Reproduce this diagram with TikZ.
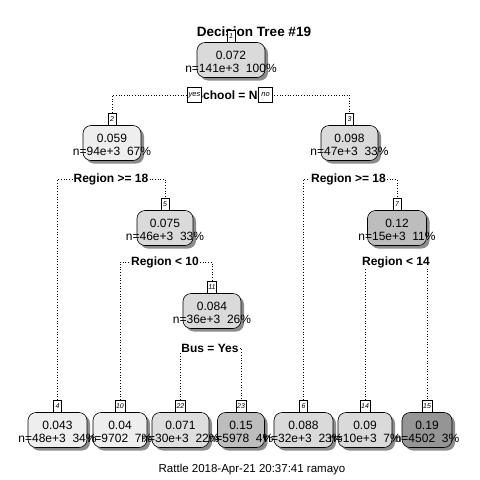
\documentclass[tikz,border=0pt]{standalone}
\usepackage{fontspec}
\setmainfont{Liberation Sans}
\usetikzlibrary{shadows}
\pgfdeclarelayer{back}\pgfdeclarelayer{bg}\pgfdeclarelayer{fg}\pgfsetlayers{back,bg,main,fg}
\definecolor{cA}{HTML}{DADADA}
\definecolor{cB}{HTML}{EEEEEE}
\definecolor{cC}{HTML}{BDBDBD}
\definecolor{cD}{HTML}{959595}
\definecolor{cE}{HTML}{DEDEDE}
\tikzset{
  box/.style={draw=black, line width=0.6pt, rounded corners=8pt, minimum height=35pt, inner sep=0pt,
    drop shadow={shadow xshift=3pt,shadow yshift=-3pt,fill=black!45,opacity=1}},
  txt/.style={font=\fontsize{12}{13}\selectfont, align=center, inner sep=0pt, yshift=-2pt},
  nlab/.style={draw, fill=white, line width=0.5pt, font=\fontsize{7}{8}\selectfont\itshape, inner sep=1pt, minimum width=8pt, minimum height=12pt, anchor=south},
  yn/.style={draw, fill=white, line width=0.5pt, font=\fontsize{7.5}{8}\selectfont\itshape, inner sep=1pt, minimum width=14pt, minimum height=15pt},
  split/.style={font=\bfseries\fontsize{12}{13}\selectfont, fill=white, inner xsep=1pt, inner ysep=1pt},
  conn/.style={dotted, line width=0.7pt}
}
\begin{document}
\begin{tikzpicture}[x=1pt,y=-1pt]
\begin{pgfonlayer}{back}
\fill[white] (0,0) rectangle (480,480);
\end{pgfonlayer}
\useasboundingbox (0,0) rectangle (480,480);
\node[font=\bfseries\fontsize{13.5}{15}\selectfont] (title) at (254,32) {Decision Tree \#19};
% boxes
\node[box, fill=cA, minimum width=68pt] (n1) at (231,60) {};
\node[box, fill=cB, minimum width=58pt] (n2) at (112,143) {};
\node[box, fill=cA, minimum width=57pt] (n3) at (349.5,143) {};
\node[box, fill=cA, minimum width=56pt] (n5) at (165,228) {};
\node[box, fill=cC, minimum width=59pt] (n7) at (397,228) {};
\node[box, fill=cA, minimum width=58pt] (n11) at (212,311) {};
\node[box, fill=cB, minimum width=59pt] (n4) at (57.5,430) {};
\node[box, fill=cB, minimum width=54pt] (n10) at (120,430) {};
\node[box, fill=cE, minimum width=57pt] (n22) at (180.5,430) {};
\node[box, fill=cC, minimum width=47pt] (n23) at (241,430) {};
\node[box, fill=cA, minimum width=59pt] (n6) at (303.5,430) {};
\node[box, fill=cA, minimum width=54pt] (n14) at (365,430) {};
\node[box, fill=cD, minimum width=50pt] (n15) at (427,430) {};
% number labels
\node[nlab] (l1) at (n1.north) {1};
\node[nlab] (l2) at (n2.north) {2};
\node[nlab] (l3) at (n3.north) {3};
\node[nlab] (l5) at (n5.north) {5};
\node[nlab] (l7) at (n7.north) {7};
\node[nlab] (l11) at (n11.north) {11};
\node[nlab] (l4) at (n4.north) {4};
\node[nlab] (l10) at (n10.north) {10};
\node[nlab] (l22) at (n22.north) {22};
\node[nlab] (l23) at (n23.north) {23};
\node[nlab] (l6) at (n6.north) {6};
\node[nlab] (l14) at (n14.north) {14};
\node[nlab] (l15) at (n15.north) {15};
% split labels
\node[split] (s1) at (230,95) {School = No};
\node[split] (s2) at (111,179) {Region >= 18};
\node[split] (s3) at (348.5,179) {Region >= 18};
\node[split] (s5) at (165,262) {Region < 10};
\node[split] (s7) at (396,262) {Region < 14};
\node[split] (s11) at (210,348) {Bus = Yes};
\node[yn] (yes) at (194.5,95) {yes};
\node[yn] (no) at (265.5,95) {no};
% connectors
\begin{pgfonlayer}{bg}
\draw[conn] (l2.north) |- (s1) -| (l3.north);
\draw[conn] (l4.north) |- (s2) -| (l5.north);
\draw[conn] (l6.north) |- (s3) -| (l7.north);
\draw[conn] (l10.north) |- (s5) -| (l11.north);
\draw[conn] (l14.north) |- (s7) -| (l15.north);
\draw[conn] (l22.north) |- (s11) -| (l23.north);
\end{pgfonlayer}
% texts
\begin{pgfonlayer}{fg}
\node[txt] (t1) at (n1) {0.072\\n=141e+3\ \ 100\%};
\node[txt] (t2) at (n2) {0.059\\n=94e+3\ \ 67\%};
\node[txt] (t3) at (n3) {0.098\\n=47e+3\ \ 33\%};
\node[txt] (t5) at (n5) {0.075\\n=46e+3\ \ 33\%};
\node[txt] (t7) at (n7) {0.12\\n=15e+3\ \ 11\%};
\node[txt] (t11) at (n11) {0.084\\n=36e+3\ \ 26\%};
\node[txt] (t4) at (n4) {0.043\\n=48e+3\ \ 34\%};
\node[txt] (t10) at (n10) {0.04\\n=9702\ \ 7\%};
\node[txt] (t22) at (n22) {0.071\\n=30e+3\ \ 22\%};
\node[txt] (t23) at (n23) {0.15\\n=5978\ \ 4\%};
\node[txt] (t6) at (n6) {0.088\\n=32e+3\ \ 23\%};
\node[txt] (t14) at (n14) {0.09\\n=10e+3\ \ 7\%};
\node[txt] (t15) at (n15) {0.19\\n=4502\ \ 3\%};
\end{pgfonlayer}
\node[font=\fontsize{11.5}{13}\selectfont] (foot) at (252,470) {Rattle 2018-Apr-21 20:37:41 ramayo};
\end{tikzpicture}
\end{document}
